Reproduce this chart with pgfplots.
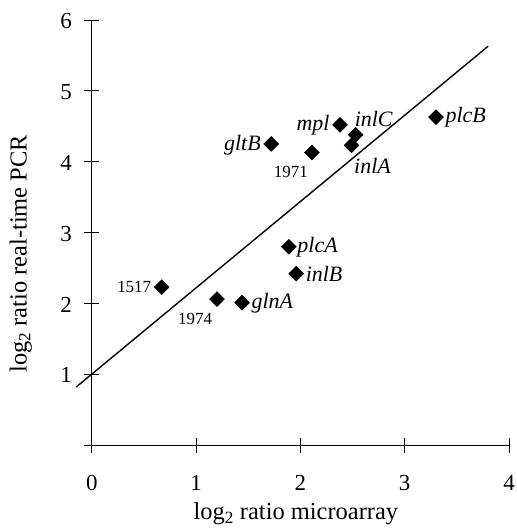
\documentclass[border=0pt]{standalone}
\usepackage{fontspec}
\setmainfont{Liberation Serif}
\usepackage{pgfplots}
\pgfplotsset{compat=1.18}
\begin{document}
\begin{tikzpicture}
\useasboundingbox (-92pt,-85pt) rectangle (425pt,446pt);
\begin{axis}[
  at={(0pt,0pt)}, anchor=south west,
  scale only axis, width=418pt, height=426pt,
  xmin=0, xmax=4, ymin=0, ymax=6,
  axis lines*=left,
  xtick={0,1,2,3,4}, ytick={0,1,2,3,4,5,6},
  yticklabels={,1,2,3,4,5,6},
  tick align=center, major tick length=15pt,
  tick style={black, line width=0.9pt},
  axis line style={black, line width=0.9pt},
  /pgf/number format/assume math mode=true,
  ticklabel style={font=\fontsize{23}{23}\selectfont},
  xticklabel style={yshift=-19pt},
  yticklabel style={xshift=-9pt, yshift=-1pt},
  label style={font=\fontsize{24.5}{24.5}\selectfont},
  xlabel={log\textsubscript{2} ratio microarray},
  ylabel={log\textsubscript{2} ratio real-time PCR},
  xlabel style={at={(axis description cs:0.489,-0.161)}, anchor=center},
  ylabel style={at={(axis description cs:-0.17,0.45)}, anchor=center},
  clip=false,
]
% regression line
\addplot[black, line width=1.4pt] coordinates {(-0.15,0.82) (3.80,5.63)};
% genes
\addplot[only marks, mark=square*, mark size=5.3pt, mark options={rotate=45, fill=black}] coordinates {
(0.67,2.23) (1.20,2.06) (1.44,2.01) (1.89,2.80) (1.96,2.42) (1.72,4.25)
(2.11,4.13) (2.38,4.52) (2.53,4.38) (2.49,4.23) (3.30,4.63)};
\begin{scope}[font=\fontsize{17}{17}\selectfont]
\node[anchor=east] at (axis cs:0.67,2.23) [xshift=-7pt] {1517};
\node at (axis cs:1.20,2.06) [xshift=-22pt, yshift=-20pt] {1974};
\node at (axis cs:2.11,4.13) [xshift=-21pt, yshift=-20pt] {1971};
\end{scope}
\begin{scope}[font=\fontsize{22}{22}\selectfont\itshape]
\node[anchor=west] at (axis cs:1.44,2.01) [xshift=6pt] {glnA};
\node[anchor=west] at (axis cs:1.89,2.80) [xshift=5pt] {plcA};
\node[anchor=west] at (axis cs:1.96,2.42) [xshift=6pt] {inlB};
\node[anchor=east] at (axis cs:1.72,4.25) [xshift=-7pt, yshift=-1pt] {gltB};
\node[anchor=east] at (axis cs:2.38,4.52) [xshift=-7pt] {mpl};
\node at (axis cs:2.53,4.38) [xshift=18pt, yshift=16pt] {inlC};
\node at (axis cs:2.49,4.23) [xshift=21pt, yshift=-21pt] {inlA};
\node[anchor=west] at (axis cs:3.30,4.63) [xshift=6pt] {plcB};
\end{scope}
\end{axis}
\end{tikzpicture}
\end{document}
